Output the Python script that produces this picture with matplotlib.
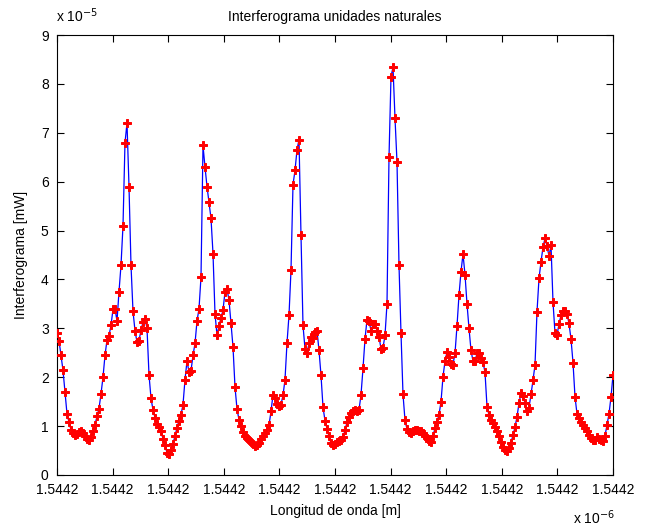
import numpy as np
import matplotlib
matplotlib.use("Agg")
import matplotlib.pyplot as plt

plt.rcParams['font.family'] = ['Liberation Sans', 'DejaVu Sans']

# Interferogram power, in units of 1e-5 mW, sampled on a uniform wavelength sweep
power_e5 = [
    2.90, 2.75, 2.45, 2.14, 1.70, 1.25, 1.08, 0.92, 0.86, 0.82,
    0.83, 0.87, 0.89, 0.86, 0.79, 0.73, 0.71, 0.77, 0.89, 1.03,
    1.20, 1.36, 1.66, 2.00, 2.45, 2.76, 2.85, 3.06, 3.39, 3.40,
    3.15, 3.75, 4.29, 5.10, 6.80, 7.20, 5.90, 4.29, 3.35, 2.95,
    2.72, 2.75, 2.96, 3.13, 3.20, 3.00, 2.05, 1.57, 1.33, 1.17,
    1.05, 0.98, 0.89, 0.74, 0.61, 0.45, 0.42, 0.52, 0.64, 0.80,
    0.97, 1.11, 1.23, 1.44, 1.95, 2.33, 2.11, 2.13, 2.45, 2.69,
    3.15, 3.40, 4.05, 6.74, 6.30, 5.90, 5.58, 5.25, 4.53, 3.30,
    2.86, 3.05, 3.22, 3.37, 3.75, 3.80, 3.58, 3.10, 2.62, 1.80,
    1.35, 1.13, 1.00, 0.88, 0.80, 0.76, 0.72, 0.67, 0.63, 0.60,
    0.61, 0.66, 0.73, 0.79, 0.86, 0.93, 1.02, 1.30, 1.64, 1.58,
    1.45, 1.41, 1.44, 1.63, 1.95, 2.70, 3.27, 4.19, 5.94, 6.23,
    6.65, 6.86, 4.90, 3.06, 2.58, 2.50, 2.69, 2.82, 2.80, 2.93,
    2.95, 2.55, 2.04, 1.39, 1.11, 0.95, 0.79, 0.65, 0.61, 0.64,
    0.68, 0.70, 0.72, 0.77, 0.92, 1.08, 1.19, 1.26, 1.31, 1.33,
    1.30, 1.33, 1.64, 2.18, 2.78, 3.18, 3.15, 2.95, 3.08, 3.09,
    2.95, 2.83, 2.58, 2.60, 2.86, 3.50, 6.50, 8.15, 8.34, 7.30,
    6.40, 4.29, 2.90, 1.65, 1.12, 0.94, 0.88, 0.85, 0.89, 0.92,
    0.92, 0.91, 0.89, 0.85, 0.80, 0.75, 0.70, 0.67, 0.80, 0.96,
    1.09, 1.23, 1.50, 2.01, 2.33, 2.52, 2.42, 2.28, 2.26, 2.49,
    3.05, 3.68, 4.16, 4.52, 4.10, 3.50, 3.00, 2.55, 2.33, 2.33,
    2.49, 2.50, 2.39, 2.31, 2.10, 1.40, 1.22, 1.13, 1.06, 0.98,
    0.89, 0.79, 0.68, 0.58, 0.52, 0.50, 0.55, 0.66, 0.82, 0.98,
    1.19, 1.47, 1.67, 1.62, 1.47, 1.30, 1.38, 1.65, 1.94, 2.25,
    3.34, 4.02, 4.36, 4.66, 4.84, 4.68, 4.48, 4.70, 3.54, 2.90,
    2.86, 3.09, 3.27, 3.35, 3.36, 3.30, 3.10, 2.78, 2.30, 1.60,
    1.25, 1.16, 1.09, 1.03, 0.96, 0.89, 0.82, 0.76, 0.72, 0.71,
    0.77, 0.73, 0.72, 0.70, 0.80, 1.02, 1.25, 1.60, 2.04,
]

# Wavelength sweep limits (m)
lambda_start = 1.544200e-6
lambda_end = 1.544245e-6
wavelength = np.linspace(lambda_start, lambda_end, len(power_e5))

y_ticks = [0, 1, 2, 3, 4, 5, 6, 7, 8, 9]
x_tick_labels = ["1.5442"] * 11

fig = plt.figure(figsize=(6.45, 5.29), dpi=100)
ax = fig.add_axes([57 / 645, 54 / 529, 556 / 645, 440 / 529])

ax.plot(wavelength, power_e5, color=(0, 0, 1), lw=0.9, zorder=2)
ax.plot(wavelength, power_e5, linestyle='none', marker='P', markersize=5.2,
        color='red', markeredgecolor='red', markeredgewidth=0.7, zorder=3)

ax.set_xlim(lambda_start, lambda_end)
ax.set_ylim(0, 9)
ax.set_yticks(y_ticks)
ax.set_yticklabels([str(v) for v in y_ticks])
ax.set_xticks(np.linspace(lambda_start, lambda_end, len(x_tick_labels)))
ax.set_xticklabels(x_tick_labels)

ax.tick_params(direction='in', length=5, width=0.8, top=True, right=True,
               labelsize=10)
ax.tick_params(axis='x', pad=6)
ax.tick_params(axis='y', pad=6)
for s in ax.spines.values():
    s.set_linewidth(0.8)

ax.set_title("Interferograma unidades naturales", fontsize=10, pad=10)
ax.set_xlabel("Longitud de onda [m]", fontsize=10, labelpad=5)
ax.set_ylabel("Interferograma [mW]", fontsize=10, labelpad=9)

# Axis multipliers in MATLAB style
fig.text(56 / 645, 1 - 22 / 529, r"x 10$^{-5}$", fontsize=10, ha='left', va='baseline')
fig.text(573 / 645, 1 - 524 / 529, r"x 10$^{-6}$", fontsize=10, ha='left', va='baseline')

fig.savefig("out.png", dpi=100)
